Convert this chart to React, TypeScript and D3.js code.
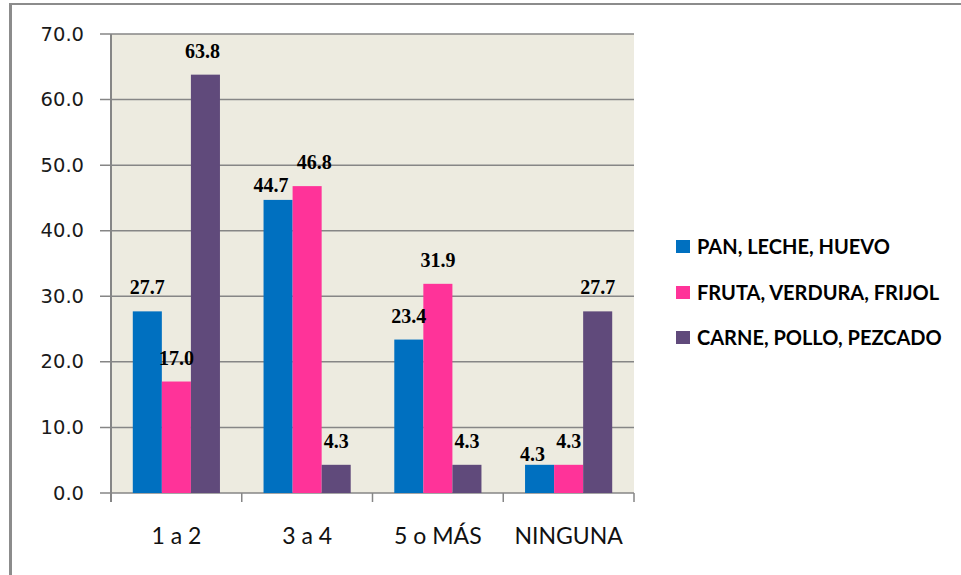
import React from "react";
import * as d3 from "d3";

const categories = ["1 a 2", "3 a 4", "5 o MÁS", "NINGUNA"];
const seriesNames = ["PAN, LECHE, HUEVO", "FRUTA, VERDURA, FRIJOL", "CARNE, POLLO, PEZCADO"];
const panLecheHuevo = [27.7, 44.7, 23.4, 4.3];
const frutaVerduraFrijol = [17.0, 46.8, 31.9, 4.3];
const carnePolloPezcado = [63.8, 4.3, 4.3, 27.7];
const yTicks = [0, 10, 20, 30, 40, 50, 60, 70];
const colors = ["#0070C0", "#FF3399", "#604A7B"];

// label collision nudges (px), per series / category
const labelDx = [
  [0, -7, 0, -7],
  [0, 7, 0, 0],
  [-3, 0, 0, 0],
];
const labelDy = [
  [0, 9, 0, 13],
  [0, 0, 0, 0],
  [0, 0, 0, 0],
];

const W = 961;
const H = 575;
const plot = { left: 111, right: 634, top: 34, bottom: 493 };

export default function App() {
  const series = [panLecheHuevo, frutaVerduraFrijol, carnePolloPezcado];
  const y = d3.scaleLinear().domain([0, 70]).range([plot.bottom, plot.top]);
  const x0 = d3.scaleBand<string>().domain(categories).range([plot.left, plot.right]).padding(0);
  const x1 = d3
    .scaleBand<string>()
    .domain(seriesNames)
    .range([0, x0.bandwidth()])
    .paddingInner(0)
    .paddingOuter(0.75);
  const grid = "#868686";
  const legendY = [246, 292, 337];

  return (
    <svg
      width={W}
      height={H}
      style={{ position: "absolute", left: 0, top: 0, background: "#fff" }}
    >
      <rect x={0} y={0} width={W} height={H} fill="#fff" />
      {/* outer border */}
      <line x1={10.5} x2={10.5} y1={3} y2={H} stroke="#8c8c8c" strokeWidth={3} />
      <line x1={9} x2={W} y1={4} y2={4} stroke="#8c8c8c" strokeWidth={2} />
      {/* plot area */}
      <rect
        x={plot.left}
        y={plot.top}
        width={plot.right - plot.left}
        height={plot.bottom - plot.top}
        fill="#EDEBE0"
      />
      {yTicks.map((t) => (
        <g key={t}>
          <line x1={100} x2={plot.right} y1={y(t)} y2={y(t)} stroke={grid} strokeWidth={1.5} />
          <text
            x={84}
            y={y(t)}
            textAnchor="end"
            dominantBaseline="central"
            fontFamily="DejaVu Sans"
            fontSize={19.5}
            fill="#1a1a1a"
          >
            {t.toFixed(1)}
          </text>
        </g>
      ))}
      <line x1={plot.left} x2={plot.left} y1={plot.top} y2={502} stroke={grid} strokeWidth={2} />
      {categories.map((c) => (
        <line
          key={"tk" + c}
          x1={x0(c)!}
          x2={x0(c)!}
          y1={plot.bottom}
          y2={502}
          stroke={grid}
          strokeWidth={1.5}
        />
      ))}
      <line x1={plot.right} x2={plot.right} y1={plot.bottom} y2={502} stroke={grid} strokeWidth={1.5} />
      {/* bars */}
      {categories.map((c, ci) =>
        seriesNames.map((s, si) => {
          const v = series[si][ci];
          const bx = x0(c)! + x1(s)!;
          return (
            <rect
              key={c + s}
              x={bx}
              y={y(v)}
              width={x1.bandwidth()}
              height={y(0) - y(v)}
              fill={colors[si]}
            />
          );
        })
      )}
      {/* labels */}
      {categories.map((c, ci) =>
        seriesNames.map((s, si) => {
          const v = series[si][ci];
          const bx = x0(c)! + x1(s)! + x1.bandwidth() / 2 + labelDx[si][ci];
          return (
            <text
              key={"l" + c + s}
              x={bx}
              y={y(v) - 17 + labelDy[si][ci]}
              textAnchor="middle"
              fontFamily="Liberation Serif"
              fontWeight="bold"
              fontSize={20}
              fill="#000"
            >
              {v.toFixed(1)}
            </text>
          );
        })
      )}
      {/* category labels */}
      {categories.map((c) => (
        <text
          key={"c" + c}
          x={x0(c)! + x0.bandwidth() / 2}
          y={544}
          textAnchor="middle"
          fontFamily="Lato"
          fontSize={23}
          fill="#111"
        >
          {c}
        </text>
      ))}
      {/* legend */}
      {seriesNames.map((s, i) => (
        <g key={"lg" + s}>
          <rect x={676} y={legendY[i] - 6} width={14} height={13} fill={colors[i]} />
          <text
            x={697}
            y={legendY[i]}
            dominantBaseline="central"
            fontFamily="Lato"
            fontWeight="bold"
            fontSize={20}
            fill="#000"
          >
            {s}
          </text>
        </g>
      ))}
    </svg>
  );
}
